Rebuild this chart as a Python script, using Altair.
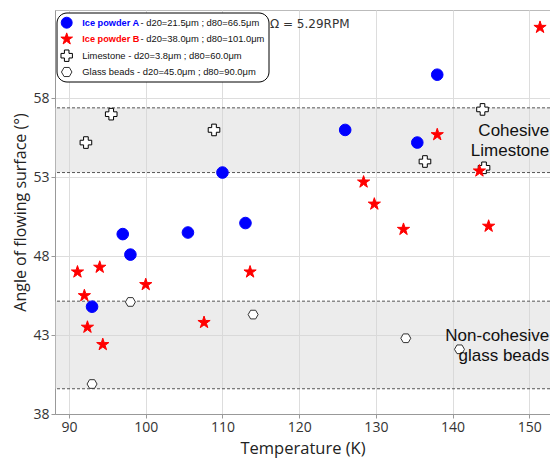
import altair as alt
import pandas as pd

# ---- data ----
iceA_T = [93.0, 97.0, 98.0, 105.5, 110.0, 113.0, 126.0, 135.4, 138.0]
iceA_angle = [44.8, 49.4, 48.1, 49.5, 53.3, 50.1, 56.0, 55.2, 59.5]

iceB_T = [91.1, 92.0, 92.4, 94.0, 94.4, 100.0, 107.6, 113.6, 128.4, 129.8, 133.6, 138.0, 143.5, 144.7, 151.4]
iceB_angle = [47.0, 45.5, 43.5, 47.3, 42.4, 46.2, 43.8, 47.0, 52.7, 51.3, 49.7, 55.7, 53.4, 49.9, 62.5]

lime_T = [92.2, 95.5, 108.9, 136.4, 143.9, 144.1]
lime_angle = [55.2, 57.0, 56.0, 54.0, 57.3, 53.6]

glass_T = [93.0, 98.0, 114.0, 133.9, 140.9]
glass_angle = [39.9, 45.1, 44.3, 42.8, 42.1]

band_lo = [53.3, 39.6]
band_hi = [57.4, 45.15]

ann_text = ["Cohesive", "Limestone", "Non-cohesive", "glass beads"]
ann_x = [152.6, 152.6, 152.6, 152.6]
ann_y = [55.63, 54.36, 42.64, 41.35]

x_ticks = [90, 100, 110, 120, 130, 140, 150]
y_ticks = [38, 43, 48, 53, 58]

legend_bold = ["Ice powder A", "Ice powder B"]
legend_rest = [" - d20=21.5μm ; d80=66.5μm", " - d20=38.0μm ; d80=101.0μm",
               "Limestone - d20=3.8μm ; d80=60.0μm", "Glass beads - d20=45.0μm ; d80=90.0μm"]

# ---- styling ----
STAR = ("M0,-1L0.2245,-0.309L0.951,-0.309L0.3633,0.118L0.588,0.809L0,0.382"
        "L-0.588,0.809L-0.3633,0.118L-0.951,-0.309L-0.2245,-0.309Z")
HEX = "M-1,0L-0.5,-0.866L0.5,-0.866L1,0L0.5,0.866L-0.5,0.866Z"
FONT = "Open Sans"
XDOM = [88.17, 152.7]
YDOM = [38, 63.6]

xenc = alt.X("T:Q", title="Temperature (K)",
             scale=alt.Scale(domain=XDOM, nice=False, zero=False),
             axis=alt.Axis(values=x_ticks, format="d"))
yenc = alt.Y("A:Q", title="Angle of flowing surface (°)",
             scale=alt.Scale(domain=YDOM, nice=False, zero=False),
             axis=alt.Axis(values=y_ticks, format="d"))

def pts(T, A, shape, size, fill, stroke):
    df = pd.DataFrame({"T": T, "A": A})
    return alt.Chart(df).mark_point(shape=shape, size=size, filled=True, fill=fill,
                                    stroke=stroke, strokeWidth=1, opacity=1).encode(x=xenc, y=yenc)

bands = alt.Chart(pd.DataFrame({"lo": band_lo, "hi": band_hi})).mark_rect(
    color="#d4d4d4", opacity=0.45).encode(y=alt.Y("lo:Q", scale=alt.Scale(domain=YDOM, nice=False)), y2="hi:Q")

edges = alt.Chart(pd.DataFrame({"e": band_lo + band_hi})).mark_rule(
    strokeDash=[3, 2], color="#555", strokeWidth=1).encode(y="e:Q")

glass = pts(glass_T, glass_angle, HEX, 100, "white", "#333")
lime = pts(lime_T, lime_angle, "cross", 135, "white", "#000")
iceA = pts(iceA_T, iceA_angle, "circle", 135, "#0000ff", "#0000ff")
iceB = pts(iceB_T, iceB_angle, STAR, 165, "#ff0000", "#ff0000")

ann = alt.Chart(pd.DataFrame({"T": ann_x, "A": ann_y, "t": ann_text})).mark_text(
    align="right", baseline="alphabetic", font="Liberation Sans", fontSize=17, color="#111").encode(
    x="T:Q", y="A:Q", text="t:N")

one = pd.DataFrame({"k": [0]})
omega = alt.Chart(one).mark_text(text="Ω = 5.29RPM", align="left", baseline="alphabetic",
                                 font="DejaVu Sans", fontSize=12, color="#333").encode(
    x=alt.value(215), y=alt.value(18.3))

box = alt.Chart(one).mark_rect(fill="white", stroke="black", strokeWidth=1, cornerRadius=10).encode(
    x=alt.value(2), x2=alt.value(214), y=alt.value(3), y2=alt.value(72))

rows_y = [12.7, 29.0, 45.7, 62.0]
leg_layers = [box]
sym_specs = [("circle", 120, "#0000ff", "#0000ff"), (STAR, 150, "#ff0000", "#ff0000"),
             ("cross", 130, "white", "#000"), (HEX, 110, "white", "#333")]
for (shape, size, fill, stroke), yy in zip(sym_specs, rows_y):
    leg_layers.append(alt.Chart(one).mark_point(shape=shape, size=size, filled=True, fill=fill,
                                                stroke=stroke, strokeWidth=1, opacity=1).encode(
        x=alt.value(11.7), y=alt.value(yy)))
LFS = 9.4
for txt, col, yy in zip(legend_bold, ["#0000ff", "#ff0000"], rows_y[:2]):
    leg_layers.append(alt.Chart(one).mark_text(text=txt, align="left", baseline="middle",
                                               font="Liberation Sans", fontSize=9.2, fontWeight="bold",
                                               color=col).encode(x=alt.value(27.3), y=alt.value(yy)))
for i, (txt, yy) in enumerate(zip(legend_rest, rows_y)):
    xx = 85.5 if i < 2 else 27.3
    leg_layers.append(alt.Chart(one).mark_text(text=txt, align="left", baseline="middle",
                                               font="Liberation Sans", fontSize=LFS,
                                               color="#111").encode(x=alt.value(xx), y=alt.value(yy)))

chart = alt.layer(bands, edges, glass, lime, iceA, iceB, ann, omega, *leg_layers).properties(
    width=495, height=404,
    autosize=alt.AutoSizeParams(type="none"),
    padding={"left": 47, "top": 2, "right": 0, "bottom": 45},
).configure_view(stroke="#bbb", strokeWidth=1).configure_axis(
    grid=True, gridColor="#dddddd", gridWidth=1, domainColor="#999", tickColor="#999",
    labelFont=FONT, labelFontSize=14, labelColor="#333", titleFont=FONT, titleFontSize=16.5,
    titleFontWeight="normal", titleColor="#222", tickSize=4, labelPadding=2,
).configure_axisX(titlePadding=6).configure_axisY(titlePadding=4.5, titleFontSize=16)

chart.save("out.html", embed_options={"renderer": "svg", "actions": False})
